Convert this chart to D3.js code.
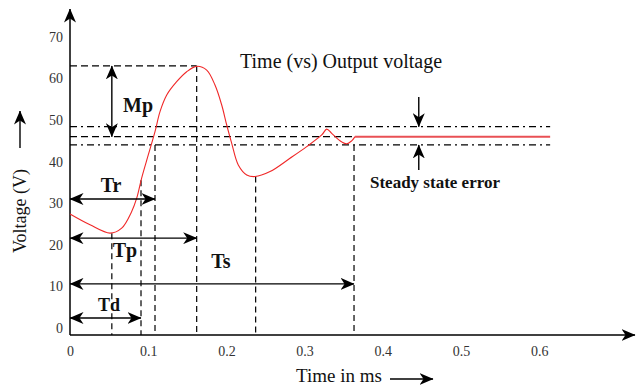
<!DOCTYPE html>
<html><head><meta charset="utf-8">
<script src="https://cdn.jsdelivr.net/npm/d3@7"></script>
<style>body{margin:0;background:#fff}svg{display:block}</style>
</head><body>
<svg id="c" width="636" height="386"></svg>
<script>
// ---------- data ----------
const timeTicks = [0, 0.1, 0.2, 0.3, 0.4, 0.5, 0.6];
const timeTickLabels = ["0", "0.1", "0.2", "0.3", "0.4", "0.5", "0.6"];
const voltTicks = [0, 10, 20, 30, 40, 50, 60, 70];
const voltTickLabels = ["0", "10", "20", "30", "40", "50", "60", "70"];

// response curve (time ms, voltage V)
const curveT = [0, 0.0256, 0.0512, 0.0661, 0.0789, 0.0853, 0.0917, 0.1001, 0.1087, 0.1151, 0.1237, 0.1364, 0.1492, 0.162, 0.1748, 0.1854, 0.194, 0.2004, 0.2068, 0.2152, 0.226, 0.2366, 0.2558, 0.2813, 0.3027, 0.3219, 0.3283, 0.3346, 0.3453, 0.3538, 0.3602, 0.3645];
const curveV = [27.4, 24.8, 22.8, 24.0, 28.0, 31.2, 36.1, 41.6, 47.2, 52.0, 56.0, 59.2, 61.6, 62.9, 62.0, 58.4, 53.6, 48.8, 44.4, 39.2, 36.8, 36.4, 37.6, 40.8, 43.6, 46.4, 47.8, 46.8, 45.0, 44.3, 45.0, 46.0];
const steadyT = [0.3645, 0.614];
const steadyV = [46.0, 46.0];

// characteristic times (ms)
const tFirstMin = 0.0535, tDelay = 0.0908, tRise = 0.1087, tPeak = 0.162, tSecondMin = 0.2374, tSettle = 0.3632;
// characteristic levels (V)
const vPeak = 63.0, vBandUpper = 48.4, vSteady = 46.0, vBandLower = 44.0;
// annotation arrow levels (V)
const vTrArrow = 31.0, vTpArrow = 21.6, vTsArrow = 10.6, vTdArrow = 2.4;

// ---------- chart ----------
const svg = d3.select("#c");
const x = d3.scaleLinear().domain([0, 0.6]).range([70, 539.2]);
const y = d3.scaleLinear().domain([0, 70]).range([328, 36.8]);
const xAxisY = 335, yAxisX = x(0);
const serif = "'Liberation Serif','Times New Roman',serif";

const defs = svg.append("defs");
defs.append("marker").attr("id", "ah")
  .attr("viewBox", "0 0 14 12").attr("refX", 13.5).attr("refY", 6)
  .attr("markerWidth", 14).attr("markerHeight", 12)
  .attr("markerUnits", "userSpaceOnUse").attr("orient", "auto-start-reverse")
  .append("path").attr("d", "M0,0 L14,6 L0,12 L4,6 Z").attr("fill", "#000");

const dashes = "6,4";
function vline(t, v) {
  svg.append("line").attr("x1", x(t)).attr("x2", x(t))
    .attr("y1", y(v)).attr("y2", xAxisY)
    .attr("stroke", "#000").attr("stroke-width", 1.2).attr("stroke-dasharray", dashes);
}
function hline(v, t0, t1, da) {
  svg.append("line").attr("x1", x(t0)).attr("x2", x(t1))
    .attr("y1", y(v)).attr("y2", y(v))
    .attr("stroke", "#000").attr("stroke-width", 1.2).attr("stroke-dasharray", da);
}

// horizontal guides
hline(vPeak, 0, tPeak, "7,4");
hline(vBandUpper, 0, 0.614, "7,4,2,4");
hline(vSteady, 0, tSettle, "7,4");
hline(vBandLower, 0, 0.614, "7,4,2,4");

// vertical guides
vline(tFirstMin, 22.8);
vline(tDelay, 35.5);
vline(tRise, vBandLower);
vline(tPeak, vPeak);
vline(tSecondMin, 36.4);
vline(tSettle, vBandLower);

// axes lines
svg.append("line").attr("x1", yAxisX).attr("x2", yAxisX).attr("y1", xAxisY).attr("y2", 9)
  .attr("stroke", "#000").attr("stroke-width", 1.5).attr("marker-end", "url(#ah)");
svg.append("line").attr("x1", yAxisX).attr("x2", 635).attr("y1", xAxisY).attr("y2", xAxisY)
  .attr("stroke", "#000").attr("stroke-width", 1.5).attr("marker-end", "url(#ah)");

// tick labels via axes (no lines)
const yAx = svg.append("g").attr("transform", `translate(${yAxisX - 7},0)`)
  .call(d3.axisLeft(y).tickValues(voltTicks).tickFormat((d, i) => voltTickLabels[i]).tickSize(0));
yAx.select(".domain").remove();
yAx.selectAll("text").attr("font-family", serif).attr("font-size", 14).attr("fill", "#333").attr("x", 0);

const xAx = svg.append("g").attr("transform", `translate(0,${xAxisY + 11})`)
  .call(d3.axisBottom(x).tickValues(timeTicks).tickFormat((d, i) => timeTickLabels[i]).tickSize(0));
xAx.select(".domain").remove();
xAx.selectAll("text").attr("font-family", serif).attr("font-size", 14).attr("fill", "#333").attr("dy", "0.71em").attr("y", 0);

// response curve
const pts = curveT.map((t, i) => [t, curveV[i]]);
svg.append("path").datum(pts)
  .attr("d", d3.line().x(d => x(d[0])).y(d => y(d[1])).curve(d3.curveCatmullRom))
  .attr("fill", "none").attr("stroke", "#f02828").attr("stroke-width", 1.1);
svg.append("path").datum(steadyT.map((t, i) => [t, steadyV[i]]))
  .attr("d", d3.line().x(d => x(d[0])).y(d => y(d[1])))
  .attr("fill", "none").attr("stroke", "#e95055").attr("stroke-width", 2);

// double arrows
function darrow(x1, y1, x2, y2, both) {
  const l = svg.append("line").attr("x1", x1).attr("y1", y1).attr("x2", x2).attr("y2", y2)
    .attr("stroke", "#000").attr("stroke-width", 1.4).attr("marker-end", "url(#ah)");
  if (both) l.attr("marker-start", "url(#ah)");
}
darrow(x(tFirstMin), y(vPeak), x(tFirstMin), y(vSteady), true);
darrow(x(0), y(vTrArrow), x(tRise), y(vTrArrow), true);
darrow(x(0), y(vTpArrow), x(tPeak), y(vTpArrow), true);
darrow(x(0), y(vTsArrow), x(tSettle), y(vTsArrow), true);
darrow(x(0), y(vTdArrow), x(tDelay), y(vTdArrow), true);
// steady state error arrows
darrow(x(0.446), y(55.5), x(0.446), y(vBandUpper), false);
darrow(x(0.446), y(38.0), x(0.446), y(vBandLower), false);

// labels
function label(txt, xx, yy, size, weight, anchor) {
  svg.append("text").attr("x", xx).attr("y", yy).text(txt)
    .attr("font-family", serif).attr("font-size", size).attr("font-weight", weight || "normal")
    .attr("text-anchor", anchor || "middle").attr("fill", "#111");
}
label("Mp", 138, 112, 20, "bold");
label("Tr", 111, 192, 20, "bold");
label("Tp", 125, 257, 20, "bold");
label("Ts", 221, 268, 20, "bold");
label("Td", 109, 311, 18, "bold");
label("Steady state error", 370, 188, 17, "bold", "start");
label("Time (vs) Output voltage", 240, 68, 20, "normal", "start");
label("Time in ms", 339, 382, 19, "normal");
darrow(390, 379, 433, 379, false);

// y title
svg.append("text").attr("transform", "translate(26,211) rotate(-90)")
  .attr("text-anchor", "middle").attr("font-family", serif).attr("font-size", 18)
  .attr("fill", "#111").text("Voltage (V)");
darrow(20, 148, 20, 111, false);
</script>
</body></html>
